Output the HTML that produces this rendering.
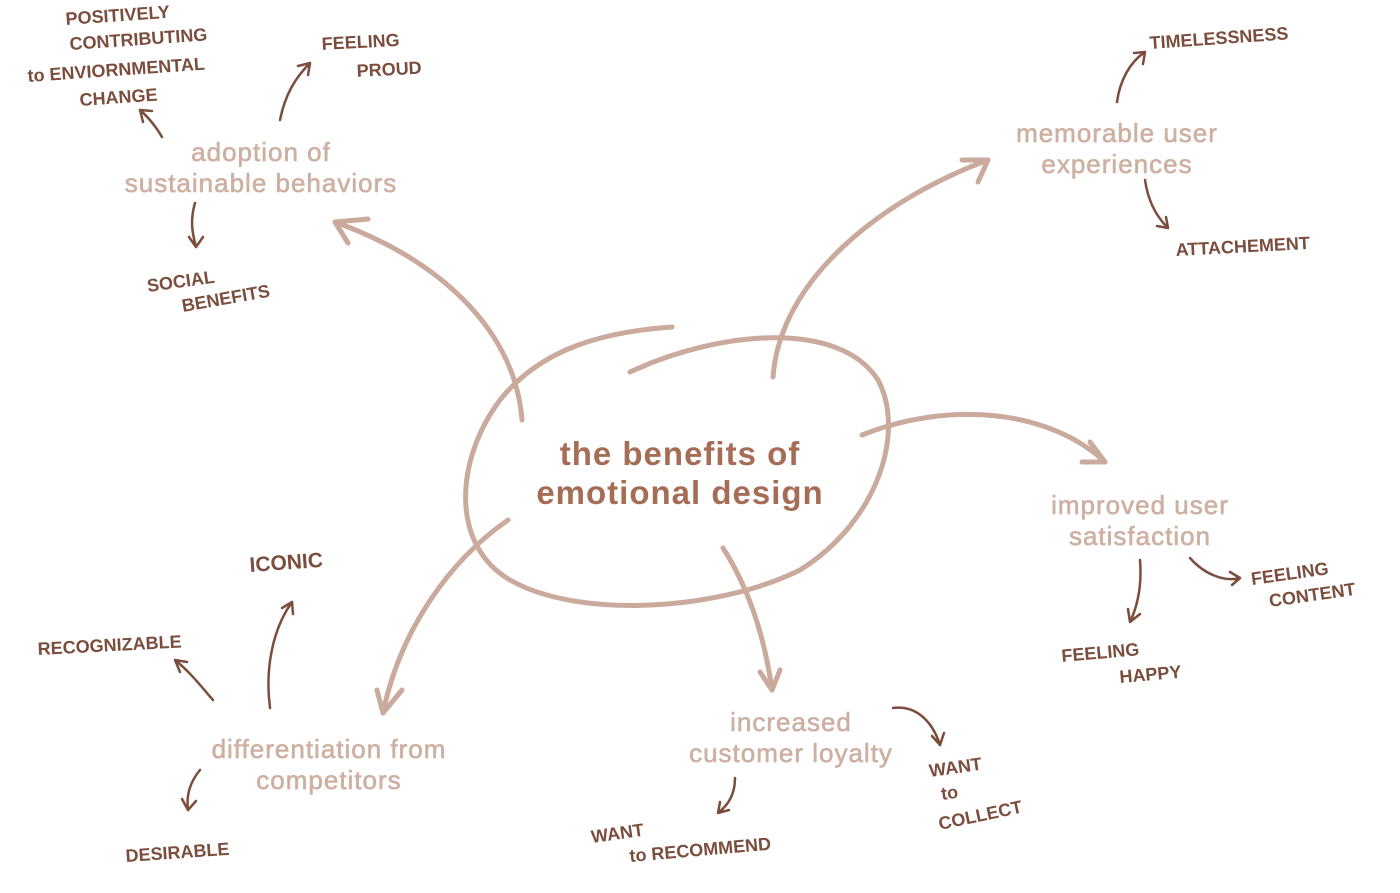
<!DOCTYPE html>
<html><head><meta charset="utf-8"><style>
html,body{margin:0;padding:0;background:#fff;}
svg{display:block}
.m{font-family:"Liberation Sans",sans-serif;font-size:26px;fill:#cdb0a2;stroke:#cdb0a2;stroke-width:0.6;text-anchor:middle;letter-spacing:1px;}
.h{font-family:"Liberation Sans",sans-serif;font-size:18px;fill:#7b4d3d;font-weight:bold;}
.c{font-family:"Liberation Sans",sans-serif;font-size:33px;font-weight:bold;fill:#a66d56;text-anchor:middle;letter-spacing:1px;}
.a{fill:none;stroke:#c9aa9c;stroke-width:5;stroke-linecap:round;stroke-linejoin:round}
.d{fill:none;stroke:#7b4d3d;stroke-width:2.5;stroke-linecap:round;stroke-linejoin:round}
</style></head><body>
<svg width="1400" height="893" viewBox="0 0 1400 893" xmlns="http://www.w3.org/2000/svg">
<path class="a" d="M630,372 C720,330 840,320 878,380 C905,430 880,520 800,570 C720,610 580,620 510,580 C450,545 455,460 500,400 C540,350 600,332 672,327"/>
<text class="c" x="680" y="465">the benefits of</text>
<text class="c" x="680" y="504">emotional design</text>

<path class="a" d="M522,420 C515,330 440,260 335,222"/>
<path class="a" d="M368,219 L335,222 L348,243"/>
<path class="a" d="M773,377 C780,280 880,200 988,160"/>
<path class="a" d="M962,160 L988,160 L978,182"/>
<path class="a" d="M862,435 C950,400 1050,410 1105,462"/>
<path class="a" d="M1090,442 L1105,462 L1082,462"/>
<path class="a" d="M723,548 C750,590 765,640 772,690"/>
<path class="a" d="M760,672 L772,690 L780,670"/>
<path class="a" d="M508,520 C450,560 400,630 383,713"/>
<path class="a" d="M377,690 L383,713 L402,690"/>

<text class="m" x="261" y="161">adoption of</text>
<text class="m" x="261" y="192">sustainable behaviors</text>
<text class="m" x="1117" y="142">memorable  user</text>
<text class="m" x="1117" y="173">experiences</text>
<text class="m" x="1140" y="514">improved user</text>
<text class="m" x="1140" y="545">satisfaction</text>
<text class="m" x="791" y="731">increased</text>
<text class="m" x="791" y="762">customer loyalty</text>
<text class="m" x="329" y="758">differentiation from</text>
<text class="m" x="329" y="789">competitors</text>

<path class="d" d="M162,137 C155,125 148,117 140,110 M140,110 L152,111 M140,110 L143,122"/>
<path class="d" d="M280,120 C285,95 295,78 310,63 M310,63 L298,66 M310,63 L308,75"/>
<path class="d" d="M195,203 C190,220 192,232 196,247 M196,247 L189,237 M196,247 L203,237"/>
<path class="d" d="M1117,102 C1120,80 1130,62 1145,52 M1145,52 L1134,53 M1145,52 L1143,64"/>
<path class="d" d="M1145,180 C1148,200 1155,215 1168,228 M1168,228 L1157,226 M1168,228 L1166,217"/>
<path class="d" d="M1140,560 C1142,585 1138,605 1130,622 M1130,622 L1128,609 M1130,622 L1140,614"/>
<path class="d" d="M1190,558 C1205,575 1225,582 1240,578 M1240,578 L1230,572 M1240,578 L1232,585"/>
<path class="d" d="M893,708 C915,705 932,720 940,745 M940,745 L932,736 M940,745 L944,733"/>
<path class="d" d="M735,778 C735,795 728,805 718,813 M718,813 L720,802 M718,813 L729,810"/>
<path class="d" d="M213,700 C200,685 190,672 175,660 M175,660 L180,672 M175,660 L187,662"/>
<path class="d" d="M270,708 C265,670 272,630 292,602 M292,602 L282,608 M292,602 L293,614"/>
<path class="d" d="M200,770 C190,782 186,795 188,810 M188,810 L182,799 M188,810 L196,801"/>

<text class="h" x="66" y="25" transform="rotate(-4 66 25)">POSITIVELY</text>
<text class="h" x="70" y="50" transform="rotate(-4 70 50)">CONTRIBUTING</text>
<text class="h" x="28" y="82" transform="rotate(-4 28 82)">to ENVIORNMENTAL</text>
<text class="h" x="80" y="106" transform="rotate(-4 80 106)">CHANGE</text>
<text class="h" x="322" y="50" transform="rotate(-3 322 50)">FEELING</text>
<text class="h" x="357" y="77" transform="rotate(-3 357 77)">PROUD</text>
<text class="h" x="148" y="292" transform="rotate(-8 148 292)">SOCIAL</text>
<text class="h" x="183" y="312" transform="rotate(-10 183 312)">BENEFITS</text>
<text class="h" x="1150" y="49" transform="rotate(-4 1150 49)">TIMELESSNESS</text>
<text class="h" x="1176" y="256" transform="rotate(-3 1176 256)">ATTACHEMENT</text>
<text class="h" x="1252" y="585" transform="rotate(-8 1252 585)">FEELING</text>
<text class="h" x="1270" y="607" transform="rotate(-8 1270 607)">CONTENT</text>
<text class="h" x="1062" y="662" transform="rotate(-5 1062 662)">FEELING</text>
<text class="h" x="1120" y="683" transform="rotate(-5 1120 683)">HAPPY</text>
<text class="h" x="930" y="777" transform="rotate(-8 930 777)">WANT</text>
<text class="h" x="942" y="800" transform="rotate(-8 942 800)">to</text>
<text class="h" x="940" y="830" transform="rotate(-12 940 830)">COLLECT</text>
<text class="h" x="592" y="843" transform="rotate(-8 592 843)">WANT</text>
<text class="h" x="630" y="862" transform="rotate(-5 630 862)">to RECOMMEND</text>
<text class="h" x="38" y="655" transform="rotate(-3 38 655)">RECOGNIZABLE</text>
<text class="h" x="250" y="572" transform="rotate(-4 250 572)" style="font-size:21px">ICONIC</text>
<text class="h" x="126" y="862" transform="rotate(-4 126 862)">DESIRABLE</text>
</svg>
</body></html>
